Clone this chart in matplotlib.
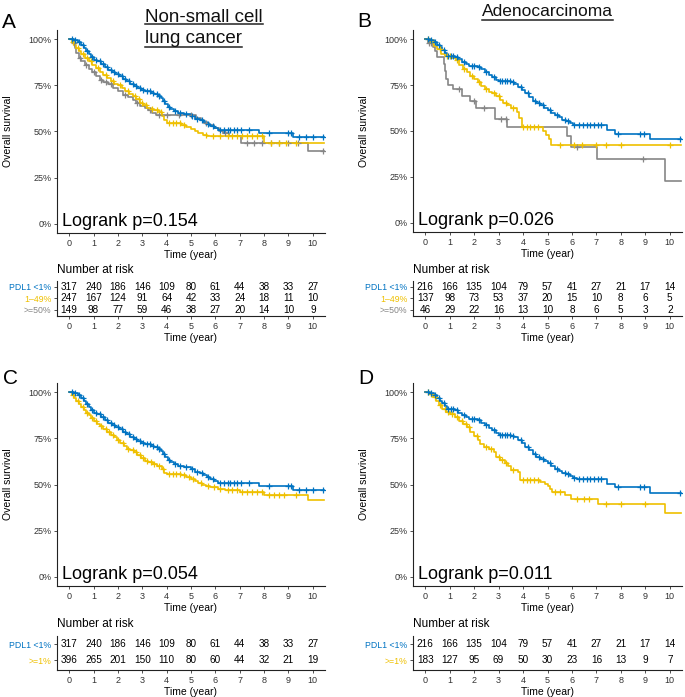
"""Kaplan-Meier curves of overall survival by PDL1 expression, with risk tables"""

import numpy as np
import matplotlib

matplotlib.use("Agg")
import matplotlib.pyplot as plt
from matplotlib.lines import Line2D

plt.rcParams["font.family"] = ["Liberation Sans", "DejaVu Sans"]

COLOR_BLUE = "#0073C2"
COLOR_YELLOW = "#EFC000"
COLOR_GRAY = "#868686"

W, H = 685, 697

# ---- Survival curves: step times (year) and survival (%) after each step ----
# PDL1 <1%, all NSCLC (used in A and C)
nsclc_neg_t = [0, 0.2, 0.35, 0.5, 0.6, 0.7, 0.8, 0.9, 1.0, 1.15, 1.3, 1.45, 1.6, 1.75,
               1.9, 2.05, 2.2, 2.35, 2.5, 2.65, 2.8, 2.95, 3.1, 3.35, 3.5, 3.65, 3.75,
               3.85, 3.95, 4.05, 4.15, 4.3, 4.45, 4.7, 5.0, 5.15, 5.35, 5.5, 5.65, 5.8,
               5.95, 6.1, 7.8, 9.2, 10.45]
nsclc_neg_s = [100, 99.5, 98.5, 97, 95.5, 93.5, 92, 90.5, 89, 88, 86.5, 85, 83.5, 82,
               81, 80, 78.5, 77.5, 76, 74.5, 73.5, 72.5, 72, 71, 70.5, 69.5, 68,
               66.5, 65, 63.5, 62, 61, 60, 59.5, 58.5, 57, 56, 55, 54, 53,
               52, 51, 49, 47, 47]
nsclc_neg_cens = [0.1, 0.25, 0.4, 0.55, 0.75, 0.95, 1.1, 1.25, 1.4, 1.55, 1.7, 1.85, 2.0,
                  2.15, 2.3, 2.45, 2.6, 2.75, 2.9, 3.05, 3.2, 3.3, 3.45, 3.6, 3.7, 3.9,
                  4.1, 4.35, 4.55, 4.8, 5.05, 5.25, 5.45, 5.7, 5.9, 6.2, 6.35, 6.5, 6.6,
                  6.75, 6.9, 7.05, 7.4, 8.2, 9.0, 9.1, 9.45, 9.7, 10.0, 10.4]

# PDL1 1-49%, NSCLC (A)
nsclc_mid_t = [0, 0.1, 0.2, 0.3, 0.4, 0.5, 0.65, 0.8, 0.95, 1.1, 1.25, 1.4, 1.55, 1.7,
               1.85, 2.0, 2.15, 2.3, 2.45, 2.6, 2.75, 2.9, 3.05, 3.2, 3.35, 3.5, 3.7,
               3.8, 3.9, 4.0, 4.6, 4.8, 5.0, 5.15, 5.3, 5.5, 5.65, 8.0, 10.45]
nsclc_mid_s = [100, 98.5, 97, 95, 93.5, 92, 90, 88, 86, 84.5, 82.5, 80.5, 79, 77.5,
               76, 75, 73.5, 72, 70.5, 69, 67.5, 65.5, 64.5, 63, 62, 61.5, 60.5,
               58.5, 56.5, 54.5, 53.5, 52.5, 51.5, 50, 49, 48, 47.3, 44, 44]
nsclc_mid_cens = [0.15, 0.35, 0.55, 0.75, 0.9, 1.2, 1.5, 1.8, 2.1, 2.4, 2.7, 2.85, 3.0,
                  3.15, 3.4, 3.6, 3.75, 4.1, 4.25, 4.4, 4.55, 4.7, 5.6, 5.9, 6.2, 6.5,
                  6.7, 6.9, 7.1, 7.3, 7.5, 7.7, 7.9, 8.3, 8.6, 8.9, 9.3]

# PDL1 >=50%, NSCLC (A)
nsclc_high_t = [0, 0.15, 0.25, 0.3, 0.4, 0.5, 0.65, 0.8, 0.95, 1.1, 1.25, 1.4, 1.6, 1.8,
                2.0, 2.2, 2.4, 2.6, 2.75, 2.9, 3.1, 3.25, 3.4, 3.55, 5.2, 5.4, 5.55,
                5.75, 5.95, 6.15, 6.3, 6.55, 7.05, 9.8, 10.45]
nsclc_high_s = [100, 98, 95, 92.5, 90, 88, 86, 84, 82, 80, 78, 77, 75.5, 73.5,
                72, 70, 68.5, 67, 65.5, 64, 63, 61.5, 60, 59, 57.5, 56, 54.5,
                53.5, 52, 50, 49, 47.5, 43.5, 39.5, 39.5]
nsclc_high_cens = [0.2, 0.45, 0.7, 1.0, 1.3, 1.5, 1.7, 2.3, 2.8, 3.3, 3.7, 4.0, 4.5,
                   5.0, 5.6, 6.4, 7.3, 7.6, 7.9, 8.3, 8.6, 9.0, 9.4, 10.4]

# PDL1 >=1%, NSCLC (C)
nsclc_pos_t = [0, 0.1, 0.2, 0.3, 0.4, 0.5, 0.6, 0.7, 0.8, 0.9, 1.0, 1.13, 1.25, 1.4,
               1.54, 1.7, 1.85, 1.95, 2.1, 2.25, 2.36, 2.5, 2.65, 2.8, 2.95, 3.1, 3.25,
               3.45, 3.6, 3.8, 3.9, 4.0, 4.6, 4.8, 5.0, 5.15, 5.3, 5.45, 5.6, 5.8,
               6.1, 6.4, 7.0, 8.0, 9.8, 10.45]
nsclc_pos_s = [100, 98.5, 97, 95, 93.5, 92, 90.5, 89, 87.5, 86, 84.5, 83, 81.5, 80,
               78.5, 77, 75.5, 74, 72.5, 71, 69.5, 68.5, 67.5, 66, 64.5, 63, 62,
               61, 60, 58.5, 56.5, 55.8, 55, 54, 53, 52, 51, 50, 49.3, 48.7,
               47.8, 47, 45.8, 44.2, 41.8, 41.8]
nsclc_pos_cens = [0.15, 0.35, 0.55, 0.75, 0.95, 1.1, 1.3, 1.5, 1.65, 1.8, 2.0, 2.2, 2.4,
                  2.6, 2.75, 2.9, 3.05, 3.2, 3.35, 3.5, 3.7, 3.85, 4.1, 4.25, 4.4, 4.55,
                  4.7, 4.9, 5.1, 5.4, 5.7, 5.95, 6.2, 6.5, 6.7, 6.9, 7.1, 7.3, 7.5,
                  7.7, 7.9, 8.2, 8.4, 8.6, 8.8, 9.3]

# PDL1 <1%, adenocarcinoma (B and D)
adeno_neg_t = [0, 0.2, 0.35, 0.5, 0.6, 0.7, 0.8, 0.9, 1.2, 1.35, 1.5, 1.65, 1.8, 2.15,
               2.3, 2.45, 2.6, 2.75, 2.9, 3.0, 3.5, 3.65, 3.8, 3.95, 4.1, 4.25, 4.4,
               4.55, 4.7, 4.85, 5.0, 5.15, 5.3, 5.45, 5.6, 5.75, 5.9, 6.05, 6.2, 7.45,
               7.75, 9.2, 10.45]
adeno_neg_s = [100, 99.5, 98.5, 97, 95.5, 94, 92.5, 91, 90.5, 89, 87.5, 86.5, 85.5, 85,
               83.5, 82, 80.5, 79.5, 78, 77, 76.5, 75.5, 74, 72.5, 70.5, 68.5, 66.5,
               65, 64, 62.5, 61.5, 60, 58.5, 57.5, 56, 55.5, 54.5, 53.5, 53, 50.5,
               48.5, 45.6, 45.6]
adeno_neg_cens = [0.1, 0.25, 0.4, 0.55, 0.75, 0.95, 1.05, 1.15, 1.3, 1.6, 1.9, 2.0, 2.2,
                  2.5, 2.8, 3.05, 3.15, 3.25, 3.35, 3.45, 3.6, 3.9, 4.2, 4.5, 4.65, 4.8,
                  5.1, 5.4, 5.7, 5.85, 6.1, 6.3, 6.45, 6.6, 6.75, 6.9, 7.05, 7.2, 7.9,
                  8.8, 8.95, 10.4]

# PDL1 1-49%, adenocarcinoma (B)
adeno_mid_t = [0, 0.2, 0.35, 0.5, 0.65, 0.8, 1.1, 1.25, 1.4, 1.55, 1.7, 1.85, 2.0, 2.15,
               2.3, 2.45, 2.6, 2.75, 2.9, 3.05, 3.2, 3.35, 3.5, 3.75, 3.85, 3.95, 4.8,
               4.95, 5.05, 5.15, 10.45]
adeno_mid_s = [100, 98.5, 96.5, 94.5, 92, 91, 90, 88.5, 86, 84, 82, 80, 78.5, 76.5,
               74.5, 73, 71.5, 70.5, 69, 67, 65.5, 64, 62.5, 60.5, 57, 52, 50,
               48, 45.5, 42.2, 42.2]
adeno_mid_cens = [0.1, 0.3, 0.6, 0.9, 1.0, 1.3, 1.6, 1.9, 2.2, 2.5, 2.8, 3.0, 3.3, 3.6,
                  4.0, 4.15, 4.3, 4.45, 4.6, 5.5, 6.1, 6.4, 7.0, 7.4, 8.0, 10.0]

# PDL1 >=50%, adenocarcinoma (B)
adeno_high_t = [0, 0.1, 0.3, 0.4, 0.5, 0.75, 0.8, 0.85, 0.95, 1.15, 1.5, 1.85, 2.08,
                2.84, 3.35, 5.8, 5.95, 7.02, 9.82, 10.45]
adeno_high_s = [100, 97.8, 95.7, 93.5, 90.3, 86.5, 82.5, 78.5, 75, 73, 69, 66.5, 62.5,
                56.5, 52, 47.5, 41.3, 34.5, 23, 23]
adeno_high_cens = [0.15, 0.25, 1.4, 2.0, 2.4, 3.1, 3.3, 6.2, 8.9]

# PDL1 >=1%, adenocarcinoma (D)
adeno_pos_t = [0, 0.15, 0.3, 0.45, 0.55, 0.7, 0.85, 1.0, 1.2, 1.4, 1.55, 1.7, 1.85, 2.0,
               2.15, 2.25, 2.4, 2.6, 2.8, 2.9, 3.05, 3.25, 3.4, 3.5, 3.8, 3.87, 4.7,
               4.9, 5.0, 5.1, 5.2, 5.7, 5.95, 7.05, 9.8, 10.45]
adeno_pos_s = [100, 99, 97.5, 95, 93, 91, 89.5, 88, 86.5, 84.5, 83, 81, 78.5, 76.5,
               74, 72, 70.5, 69.5, 67.5, 65, 63.5, 61.5, 60, 58, 56.7, 52.6, 51.5,
               50.5, 49, 47.5, 45.8, 44.3, 42, 39.4, 34.4, 34.4]
adeno_pos_cens = [0.1, 0.25, 0.4, 0.6, 0.8, 0.95, 1.1, 1.3, 1.5, 1.65, 1.8, 2.1, 2.5,
                  2.7, 3.0, 3.15, 3.3, 3.6, 4.0, 4.15, 4.3, 4.45, 4.6, 5.3, 5.5, 6.2,
                  6.5, 6.7, 7.4, 8.0, 9.0]

# ---- Risk tables ----
risk_times = list(range(0, 11))
risk_nsclc_neg = [317, 240, 186, 146, 109, 80, 61, 44, 38, 33, 27]
risk_nsclc_mid = [247, 167, 124, 91, 64, 42, 33, 24, 18, 11, 10]
risk_nsclc_high = [149, 98, 77, 59, 46, 38, 27, 20, 14, 10, 9]
risk_nsclc_pos = [396, 265, 201, 150, 110, 80, 60, 44, 32, 21, 19]
risk_adeno_neg = [216, 166, 135, 104, 79, 57, 41, 27, 21, 17, 14]
risk_adeno_mid = [137, 98, 73, 53, 37, 20, 15, 10, 8, 6, 5]
risk_adeno_high = [46, 29, 22, 16, 13, 10, 8, 6, 5, 3, 2]
risk_adeno_pos = [183, 127, 95, 69, 50, 30, 23, 16, 13, 9, 7]

pvalues = ["0.154", "0.026", "0.054", "0.011"]
y_ticks = [0, 25, 50, 75, 100]
y_tick_labels = ["0%", "25%", "50%", "75%", "100%"]


def px_rect(x0, y0, x1, y1):
    """Convert a pixel box (top-left origin) to figure fraction"""
    return [x0 / W, 1 - y1 / H, (x1 - x0) / W, (y1 - y0) / H]


def style_axis(ax):
    for side in ("top", "right"):
        ax.spines[side].set_visible(False)
    for side in ("left", "bottom"):
        ax.spines[side].set_linewidth(0.8)
        ax.spines[side].set_color("#222222")
    ax.tick_params(direction="out", length=2.5, width=0.6, color="#333333",
                   labelsize=6.5, labelcolor="#333333", pad=1.5)
    ax.set_xlim(-0.5, 10.5)
    ax.set_xticks(risk_times)


def draw_curve(ax, times, surv, cens, color):
    times = np.asarray(times)
    surv = np.asarray(surv)
    ax.step(times, surv, where="post", color=color, lw=1.2, zorder=3)
    cens = np.asarray(cens)
    idx = np.searchsorted(times, cens, side="right") - 1
    ax.plot(cens, surv[idx], ls="none", marker="+", ms=4.5, mew=0.9,
            color=color, zorder=4)


def survival_panel(rect, curves, pval):
    ax = fig.add_axes(px_rect(*rect))
    style_axis(ax)
    for times, surv, cens, color in curves:
        draw_curve(ax, times, surv, cens, color)
    ax.set_ylim(-5, 105)
    ax.set_yticks(y_ticks)
    ax.set_yticklabels(y_tick_labels)
    ax.set_xlabel("Time (year)", fontsize=7.5, labelpad=1.5)
    ax.set_ylabel("Overall survival", fontsize=7.5, labelpad=11)
    ax.text(-0.3, -1, f"Logrank p={pval}", fontsize=13, ha="left", va="baseline")
    return ax


def risk_panel(rect, rows, labels, colors):
    ax = fig.add_axes(px_rect(*rect))
    style_axis(ax)
    n_rows = len(rows)
    if n_rows == 3:
        ax.set_ylim(3.55, 0.5)
    else:
        ax.set_ylim(2.6, 0.5)
    for i, counts in enumerate(rows):
        for t, n in zip(risk_times, counts):
            ax.text(t, i + 1, str(n), ha="center", va="center", fontsize=7.2)
    ax.set_yticks(range(1, n_rows + 1))
    ax.set_yticklabels(labels)
    for lab, col in zip(ax.get_yticklabels(), colors):
        lab.set_color(col)
    ax.tick_params(axis="y", labelsize=6.3)
    ax.set_xlabel("Time (year)", fontsize=7.5, labelpad=1.5)
    return ax


fig = plt.figure(figsize=(W / 100, H / 100), dpi=100)

# Panel A
survival_panel((57, 30, 325, 233),
               [(nsclc_high_t, nsclc_high_s, nsclc_high_cens, COLOR_GRAY),
                (nsclc_mid_t, nsclc_mid_s, nsclc_mid_cens, COLOR_YELLOW),
                (nsclc_neg_t, nsclc_neg_s, nsclc_neg_cens, COLOR_BLUE)], pvalues[0])
risk_panel((57, 281, 325, 316), [risk_nsclc_neg, risk_nsclc_mid, risk_nsclc_high],
           ["PDL1 <1%", "1\u201349%", ">=50%"], [COLOR_BLUE, COLOR_YELLOW, COLOR_GRAY])

# Panel B
survival_panel((413, 30, 682, 232),
               [(adeno_high_t, adeno_high_s, adeno_high_cens, COLOR_GRAY),
                (adeno_mid_t, adeno_mid_s, adeno_mid_cens, COLOR_YELLOW),
                (adeno_neg_t, adeno_neg_s, adeno_neg_cens, COLOR_BLUE)], pvalues[1])
risk_panel((413, 281, 682, 316), [risk_adeno_neg, risk_adeno_mid, risk_adeno_high],
           ["PDL1 <1%", "1\u201349%", ">=50%"], [COLOR_BLUE, COLOR_YELLOW, COLOR_GRAY])

# Panel C
survival_panel((57, 383, 325, 586),
               [(nsclc_pos_t, nsclc_pos_s, nsclc_pos_cens, COLOR_YELLOW),
                (nsclc_neg_t, nsclc_neg_s, nsclc_neg_cens, COLOR_BLUE)], pvalues[2])
risk_panel((57, 636, 325, 670), [risk_nsclc_neg, risk_nsclc_pos],
           ["PDL1 <1%", ">=1%"], [COLOR_BLUE, COLOR_YELLOW])

# Panel D
survival_panel((413, 383, 682, 586),
               [(adeno_pos_t, adeno_pos_s, adeno_pos_cens, COLOR_YELLOW),
                (adeno_neg_t, adeno_neg_s, adeno_neg_cens, COLOR_BLUE)], pvalues[3])
risk_panel((413, 636, 682, 670), [risk_adeno_neg, risk_adeno_pos],
           ["PDL1 <1%", ">=1%"], [COLOR_BLUE, COLOR_YELLOW])

# "Number at risk" headers
for x, y in [(57, 270), (413, 270), (57, 624), (413, 624)]:
    fig.text(x / W, 1 - y / H, "Number at risk", fontsize=8.5, ha="left", va="center")

# Panel letters
for letter, x, y in [("A", 2, 28), ("B", 357, 27), ("C", 3, 384), ("D", 358, 384)]:
    fig.text(x / W, 1 - y / H, letter, fontsize=15, ha="left", va="baseline")

# Underlined titles
titles = [("Non-small cell", 145, 22, 24, 13.5),
          ("lung cancer", 145, 43, 47, 13.5),
          ("Adenocarcinoma", 482, 16, 19.5, 12.5)]
renderer = fig.canvas.get_renderer()
for label, x, y, y_line, size in titles:
    txt = fig.text(x / W, 1 - y / H, label, fontsize=size, ha="left", va="baseline",
                   color="#111111")
    bb = txt.get_window_extent(renderer)
    fig.add_artist(Line2D([bb.x0 / W, bb.x1 / W], [1 - y_line / H, 1 - y_line / H],
                          transform=fig.transFigure, color="#222222", lw=1.1))

fig.savefig("out.png", dpi=100)
